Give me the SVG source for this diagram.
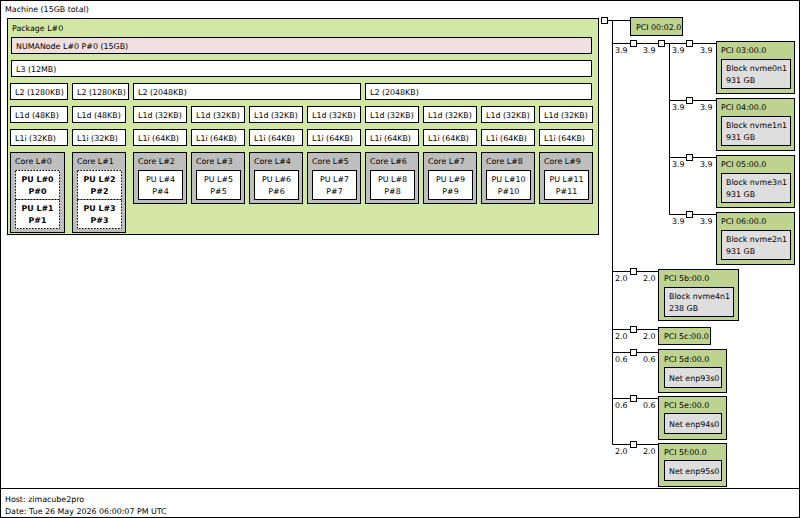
<svg xmlns="http://www.w3.org/2000/svg" width="800" height="518" viewBox="0 0 800 518">
<style>
text{font-family:"DejaVu Sans","Liberation Sans",sans-serif;font-size:7.9px;fill:#000}
.b{font-weight:bold}
.m{text-anchor:middle}
.w{fill:#fff;stroke:#000;stroke-width:1}
.pkg{fill:#d2e7a4;stroke:#000}
.core{fill:#bebebe;stroke:#000}
.pci{fill:#bfd391;stroke:#000}
.os{fill:#dedede;stroke:#000}
.dot{fill:#fff;stroke:#000;stroke-dasharray:1.5 1.5}
.l{stroke:#000;fill:none}
.sq{fill:#fff;stroke:#000}
</style>
<rect x="0.5" y="0.5" width="799" height="517" fill="#fff" stroke="#000"/>
<g id="machine">
<rect x="0.5" y="0.5" width="799" height="488" fill="#fff" stroke="#000"/>
<text x="5" y="12">Machine (15GB total)</text>
</g>
<g id="package">
<rect class="pkg" x="7.5" y="18.5" width="591" height="216"/>
<text x="12" y="31">Package L#0</text>
</g>
<g id="numa"><rect x="11.5" y="37.5" width="580" height="16" fill="#efdfde" stroke="#000"/><text x="16" y="49">NUMANode L#0 P#0 (15GB)</text></g>
<g id="l3"><rect class="w" x="11.5" y="60.5" width="580" height="16"/><text x="16" y="72">L3 (12MB)</text></g>
<g id="l2">
<rect class="w" x="10.5" y="83.5" width="57" height="16"/><text x="15" y="95">L2 (1280KB)</text>
<rect class="w" x="72.5" y="83.5" width="56" height="16"/><text x="77" y="95">L2 (1280KB)</text>
<rect class="w" x="133.5" y="83.5" width="227" height="16"/><text x="138" y="95">L2 (2048KB)</text>
<rect class="w" x="365.5" y="83.5" width="226" height="16"/><text x="370" y="95">L2 (2048KB)</text>
</g>
<g id="l1d">
<rect class="w" x="10.5" y="106.5" width="57" height="16"/><text x="15" y="118">L1d (48KB)</text>
<rect class="w" x="72.5" y="106.5" width="53" height="16"/><text x="77" y="118">L1d (48KB)</text>
<rect class="w" x="133.5" y="106.5" width="53" height="16"/><text x="138" y="118">L1d (32KB)</text>
<rect class="w" x="191.5" y="106.5" width="53" height="16"/><text x="196" y="118">L1d (32KB)</text>
<rect class="w" x="249.5" y="106.5" width="53" height="16"/><text x="254" y="118">L1d (32KB)</text>
<rect class="w" x="307.5" y="106.5" width="53" height="16"/><text x="312" y="118">L1d (32KB)</text>
<rect class="w" x="365.5" y="106.5" width="53" height="16"/><text x="370" y="118">L1d (32KB)</text>
<rect class="w" x="423.5" y="106.5" width="53" height="16"/><text x="428" y="118">L1d (32KB)</text>
<rect class="w" x="481.5" y="106.5" width="53" height="16"/><text x="486" y="118">L1d (32KB)</text>
<rect class="w" x="539.5" y="106.5" width="53" height="16"/><text x="544" y="118">L1d (32KB)</text>
</g>
<g id="l1i">
<rect class="w" x="10.5" y="129.5" width="57" height="16"/><text x="15" y="141">L1i (32KB)</text>
<rect class="w" x="72.5" y="129.5" width="53" height="16"/><text x="77" y="141">L1i (32KB)</text>
<rect class="w" x="133.5" y="129.5" width="53" height="16"/><text x="138" y="141">L1i (64KB)</text>
<rect class="w" x="191.5" y="129.5" width="53" height="16"/><text x="196" y="141">L1i (64KB)</text>
<rect class="w" x="249.5" y="129.5" width="53" height="16"/><text x="254" y="141">L1i (64KB)</text>
<rect class="w" x="307.5" y="129.5" width="53" height="16"/><text x="312" y="141">L1i (64KB)</text>
<rect class="w" x="365.5" y="129.5" width="53" height="16"/><text x="370" y="141">L1i (64KB)</text>
<rect class="w" x="423.5" y="129.5" width="53" height="16"/><text x="428" y="141">L1i (64KB)</text>
<rect class="w" x="481.5" y="129.5" width="53" height="16"/><text x="486" y="141">L1i (64KB)</text>
<rect class="w" x="539.5" y="129.5" width="53" height="16"/><text x="544" y="141">L1i (64KB)</text>
</g>
<g id="core0">
<rect class="core" x="10.5" y="152.5" width="54" height="80"/><text x="15" y="164">Core L#0</text>
<rect class="dot" x="15.5" y="170.5" width="44" height="29"/><text class="b m" x="37.5" y="182">PU L#0</text><text class="b m" x="37.5" y="194">P#0</text>
<rect class="dot" x="15.5" y="199.5" width="44" height="29"/><text class="b m" x="37.5" y="211">PU L#1</text><text class="b m" x="37.5" y="223">P#1</text>
</g>
<g id="core1">
<rect class="core" x="72.5" y="152.5" width="53" height="80"/><text x="77" y="164">Core L#1</text>
<rect class="dot" x="77.5" y="170.5" width="44" height="29"/><text class="b m" x="99.5" y="182">PU L#2</text><text class="b m" x="99.5" y="194">P#2</text>
<rect class="dot" x="77.5" y="199.5" width="44" height="29"/><text class="b m" x="99.5" y="211">PU L#3</text><text class="b m" x="99.5" y="223">P#3</text>
</g>
<g id="core2"><rect class="core" x="133.5" y="152.5" width="53" height="51"/><text x="138" y="164">Core L#2</text><rect class="w" x="138.5" y="170.5" width="44" height="29"/><text class="m" x="160.5" y="182">PU L#4</text><text class="m" x="160.5" y="194">P#4</text></g>
<g id="core3"><rect class="core" x="191.5" y="152.5" width="53" height="51"/><text x="196" y="164">Core L#3</text><rect class="w" x="196.5" y="170.5" width="44" height="29"/><text class="m" x="218.5" y="182">PU L#5</text><text class="m" x="218.5" y="194">P#5</text></g>
<g id="core4"><rect class="core" x="249.5" y="152.5" width="53" height="51"/><text x="254" y="164">Core L#4</text><rect class="w" x="254.5" y="170.5" width="44" height="29"/><text class="m" x="276.5" y="182">PU L#6</text><text class="m" x="276.5" y="194">P#6</text></g>
<g id="core5"><rect class="core" x="307.5" y="152.5" width="53" height="51"/><text x="312" y="164">Core L#5</text><rect class="w" x="312.5" y="170.5" width="44" height="29"/><text class="m" x="334.5" y="182">PU L#7</text><text class="m" x="334.5" y="194">P#7</text></g>
<g id="core6"><rect class="core" x="365.5" y="152.5" width="53" height="51"/><text x="370" y="164">Core L#6</text><rect class="w" x="370.5" y="170.5" width="44" height="29"/><text class="m" x="392.5" y="182">PU L#8</text><text class="m" x="392.5" y="194">P#8</text></g>
<g id="core7"><rect class="core" x="423.5" y="152.5" width="53" height="51"/><text x="428" y="164">Core L#7</text><rect class="w" x="428.5" y="170.5" width="44" height="29"/><text class="m" x="450.5" y="182">PU L#9</text><text class="m" x="450.5" y="194">P#9</text></g>
<g id="core8"><rect class="core" x="481.5" y="152.5" width="53" height="51"/><text x="486" y="164">Core L#8</text><rect class="w" x="486.5" y="170.5" width="44" height="29"/><text class="m" x="508.5" y="182">PU L#10</text><text class="m" x="508.5" y="194">P#10</text></g>
<g id="core9"><rect class="core" x="539.5" y="152.5" width="53" height="51"/><text x="544" y="164">Core L#9</text><rect class="w" x="544.5" y="170.5" width="44" height="29"/><text class="m" x="566.5" y="182">PU L#11</text><text class="m" x="566.5" y="194">P#11</text></g>

<g id="connectors">
<path class="l" d="M607 20.5 H630 M612.5 20.5 V444.5 M612.5 43.5 H669.5 M669.5 43.5 V214.5 M669.5 43.5 H716 M669.5 100.5 H716 M669.5 157.5 H716 M669.5 214.5 H716 M612.5 271.5 H658 M612.5 329.5 H658 M612.5 352.5 H658 M612.5 398.5 H658 M612.5 444.5 H658"/>
<rect class="sq" x="601.5" y="17.5" width="6" height="6"/>
<rect class="sq" x="630.5" y="40.5" width="6" height="6"/>
<rect class="sq" x="658.5" y="40.5" width="6" height="6"/>
<rect class="sq" x="686.5" y="40.5" width="6" height="6"/>
<rect class="sq" x="686.5" y="97.5" width="6" height="6"/>
<rect class="sq" x="686.5" y="154.5" width="6" height="6"/>
<rect class="sq" x="686.5" y="211.5" width="6" height="6"/>
<rect class="sq" x="630.5" y="268.5" width="6" height="6"/>
<rect class="sq" x="630.5" y="326.5" width="6" height="6"/>
<rect class="sq" x="630.5" y="349.5" width="6" height="6"/>
<rect class="sq" x="630.5" y="395.5" width="6" height="6"/>
<rect class="sq" x="630.5" y="441.5" width="6" height="6"/>
<text x="615" y="53">3.9</text><text x="643" y="53">3.9</text>
<text x="672" y="53">3.9</text><text x="700" y="53">3.9</text>
<text x="672" y="110">3.9</text><text x="700" y="110">3.9</text>
<text x="672" y="167">3.9</text><text x="700" y="167">3.9</text>
<text x="672" y="224">3.9</text><text x="700" y="224">3.9</text>
<text x="615" y="281">2.0</text><text x="643" y="281">2.0</text>
<text x="615" y="339">2.0</text><text x="643" y="339">2.0</text>
<text x="615" y="362">0.6</text><text x="643" y="362">0.6</text>
<text x="615" y="408">0.6</text><text x="643" y="408">0.6</text>
<text x="615" y="454">2.0</text><text x="643" y="454">2.0</text>
</g>
<g id="pci0002"><rect class="pci" x="630.5" y="17.5" width="52" height="18"/><text x="636" y="30">PCI 00:02.0</text></g>
<g id="pci0300"><rect class="pci" x="716.5" y="41.5" width="78" height="52"/><text x="721" y="53">PCI 03:00.0</text><rect class="os" x="721.5" y="59.5" width="69" height="29"/><text x="726" y="71">Block nvme0n1</text><text x="726" y="83">931 GB</text></g>
<g id="pci0400"><rect class="pci" x="716.5" y="98.5" width="78" height="52"/><text x="721" y="110">PCI 04:00.0</text><rect class="os" x="721.5" y="116.5" width="69" height="29"/><text x="726" y="128">Block nvme1n1</text><text x="726" y="140">931 GB</text></g>
<g id="pci0500"><rect class="pci" x="716.5" y="155.5" width="78" height="52"/><text x="721" y="167">PCI 05:00.0</text><rect class="os" x="721.5" y="173.5" width="69" height="29"/><text x="726" y="185">Block nvme3n1</text><text x="726" y="197">931 GB</text></g>
<g id="pci0600"><rect class="pci" x="716.5" y="212.5" width="78" height="52"/><text x="721" y="224">PCI 06:00.0</text><rect class="os" x="721.5" y="230.5" width="69" height="29"/><text x="726" y="242">Block nvme2n1</text><text x="726" y="254">931 GB</text></g>
<g id="pci5b"><rect class="pci" x="658.5" y="269.5" width="80" height="51"/><text x="664" y="281">PCI 5b:00.0</text><rect class="os" x="664.5" y="287.5" width="69" height="29"/><text x="669" y="299">Block nvme4n1</text><text x="669" y="311">238 GB</text></g>
<g id="pci5c"><rect class="pci" x="658.5" y="327.5" width="52" height="17"/><text x="664" y="339">PCI 5c:00.0</text></g>
<g id="pci5d"><rect class="pci" x="658.5" y="349.5" width="68" height="43"/><text x="664" y="362">PCI 5d:00.0</text><rect class="os" x="664.5" y="367.5" width="57" height="20"/><text x="669" y="381">Net enp93s0</text></g>
<g id="pci5e"><rect class="pci" x="658.5" y="396.5" width="68" height="43"/><text x="664" y="408">PCI 5e:00.0</text><rect class="os" x="664.5" y="413.5" width="57" height="20"/><text x="669" y="427">Net enp94s0</text></g>
<g id="pci5f"><rect class="pci" x="658.5" y="443.5" width="68" height="43"/><text x="664" y="455">PCI 5f:00.0</text><rect class="os" x="664.5" y="460.5" width="57" height="20"/><text x="669" y="474">Net enp95s0</text></g>
<g id="footer"><text x="5" y="502">Host: zimacube2pro</text><text x="5" y="514">Date: Tue 26 May 2026 06:00:07 PM UTC</text></g>
</svg>
